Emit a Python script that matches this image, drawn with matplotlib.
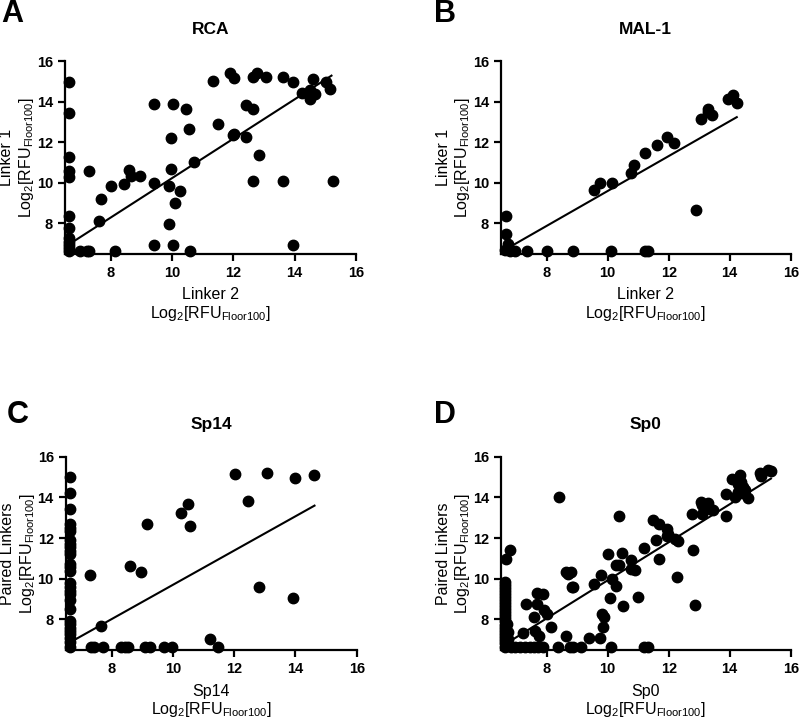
import matplotlib
matplotlib.use("Agg")
import matplotlib.pyplot as plt

plt.rcParams['font.family'] = ['Liberation Sans', 'DejaVu Sans']
plt.rcParams['mathtext.default'] = 'regular'

# ---- data (log2 RFU, floor = log2(100) ~ 6.64) ----
rca_x = [6.64, 6.64, 6.64, 6.64, 6.64, 6.64, 6.64, 6.64, 6.64, 6.64, 6.64, 6.64,
         7.0, 7.22, 7.3, 8.14, 10.59,
         7.29, 7.6, 7.67, 8.0, 8.44, 8.59, 8.66, 8.96, 9.4, 9.4, 9.4, 9.9, 9.9,
         10.02, 9.98, 9.98, 10.02, 10.08, 10.25, 10.46, 10.54, 10.7, 11.32, 11.5,
         11.9, 12.02, 11.99, 12.02, 12.4, 12.42, 12.65, 12.64, 12.77, 12.82, 12.64,
         13.06, 13.62, 13.62, 13.95, 13.94, 14.25, 14.5, 14.5, 14.59, 14.65, 15.03,
         15.15, 15.26]
rca_y = [14.98, 13.44, 11.26, 10.61, 10.31, 8.38, 7.77, 7.28, 7.1, 6.92, 6.78, 6.64,
         6.64, 6.64, 6.64, 6.64, 6.64,
         10.59, 8.13, 9.21, 9.85, 9.93, 10.64, 10.34, 10.36, 13.92, 9.98, 6.93, 9.87, 7.98,
         13.92, 12.2, 10.69, 6.93, 9.0, 9.61, 13.67, 12.64, 11.02, 15.03, 12.89,
         15.44, 15.18, 12.36, 12.43, 12.26, 13.84, 13.64, 15.21, 15.44, 11.38, 10.11,
         15.25, 15.25, 10.11, 14.98, 6.93, 14.46, 14.59, 14.13, 15.11, 14.41, 14.98,
         14.64, 10.11]
rca_fit_x = [6.64, 15.2]
rca_fit_y = [6.97, 15.3]

mal_x = [6.66, 6.67, 6.72, 6.64, 6.8, 6.96,
         7.35, 8.0, 8.85, 10.1, 11.24, 11.33,
         9.55, 9.76, 10.15, 10.78, 10.87, 11.22, 11.62, 11.96, 12.18, 12.88,
         13.05, 13.29, 13.29, 13.43, 13.93, 14.12, 14.23]
mal_y = [8.38, 7.49, 6.98, 6.7, 6.64, 6.64,
         6.64, 6.64, 6.64, 6.64, 6.64, 6.64,
         9.67, 9.98, 9.98, 10.48, 10.89, 11.49, 11.87, 12.25, 11.95, 8.66,
         13.18, 13.64, 13.48, 13.38, 14.13, 14.33, 13.95]
mal_fit_x = [6.74, 14.23]
mal_fit_y = [6.79, 13.25]

sp14_x = [6.64, 6.64, 6.64, 6.64, 6.64, 6.64, 6.64, 6.64, 6.64, 6.64, 6.64, 6.64, 6.64, 6.64,
          6.64, 6.64, 6.64, 6.64, 6.64, 6.64, 6.64, 6.64, 6.64, 6.64, 6.64, 6.64, 6.64, 6.64,
          7.29, 7.67, 8.6, 8.96, 9.14, 10.27, 10.49, 10.56, 11.2, 11.46, 12.04, 12.46,
          13.08, 12.82, 13.97, 13.92, 14.62,
          7.32, 7.43, 7.73, 8.3, 8.45, 8.52, 9.09, 9.26, 9.72, 9.97]
sp14_y = [14.98, 14.2, 13.43, 12.7, 12.5, 12.36, 11.9, 11.7, 11.54, 11.38, 11.2, 10.72, 10.56, 10.4,
          9.8, 9.6, 9.4, 9.25, 8.97, 8.5, 7.93, 7.77, 7.6, 7.44, 7.28, 7.1, 6.87, 6.64,
          10.16, 7.7, 10.61, 10.33, 12.69, 13.21, 13.66, 12.59, 7.03, 6.64, 15.15, 13.8,
          15.2, 9.57, 14.93, 9.05, 15.08,
          6.64, 6.64, 6.64, 6.64, 6.64, 6.64, 6.64, 6.64, 6.64, 6.64]
sp14_fit_x = [6.64, 14.62]
sp14_fit_y = [6.87, 13.59]

sp0_x = [6.64, 6.64, 6.64, 6.64, 6.64, 6.64, 6.64, 6.64, 6.64, 6.64, 6.64, 6.64, 6.64, 6.64,
         6.64, 6.64, 6.64, 6.64, 6.64, 6.64, 6.64, 6.64, 6.7, 6.72, 6.75, 6.66, 6.8,
         6.83, 6.96, 7.13, 7.29, 7.46, 7.6, 7.73, 7.89, 8.38, 8.76, 8.87, 9.12, 10.1, 11.2, 11.31,
         7.31, 7.67, 7.89, 7.69, 7.6, 7.92, 8.0, 7.62, 7.75, 7.24, 8.14, 8.63, 8.71, 8.8,
         8.84, 8.62, 9.4, 9.75, 9.56, 9.86, 9.89, 9.82, 8.41, 10.37, 11.49, 11.68, 11.6,
         11.69, 11.2, 11.93, 11.98, 11.93, 12.2, 12.31, 12.26, 12.79, 12.86, 12.75, 13.05,
         13.08, 13.19, 13.29, 13.35, 13.46, 13.08, 13.87, 13.88, 14.08, 14.17, 14.33, 14.28,
         14.38, 14.44, 14.5, 14.6, 14.41, 14.28, 14.98, 15.04, 15.26, 15.35,
         10.02, 10.48, 10.29, 10.37, 10.76, 10.78, 10.89, 10.98, 10.49, 10.09, 10.13,
         10.26, 9.78, 8.85]
sp0_y = [9.85, 9.7, 9.55, 9.4, 9.25, 9.1, 8.95, 8.8, 8.65, 8.5, 8.35, 8.2, 8.05, 7.9,
         7.75, 7.6, 7.45, 7.3, 7.15, 7.0, 6.85, 6.64, 7.79, 7.4, 7.05, 10.98, 11.42,
         6.64, 6.64, 6.64, 6.64, 6.64, 6.64, 6.64, 6.64, 6.64, 6.64, 6.64, 6.64, 6.64, 6.64, 6.64,
         8.75, 9.28, 9.25, 8.75, 8.13, 8.46, 8.26, 7.44, 7.2, 7.31, 7.61, 10.31, 10.23, 10.31,
         9.57, 7.2, 7.11, 7.11, 9.74, 7.61, 8.1, 8.28, 14.02, 13.08, 12.87, 12.7, 11.89,
         10.98, 11.52, 12.43, 12.2, 12.1, 11.95, 11.87, 10.1, 11.4, 8.69, 13.2, 13.77,
         13.6, 13.49, 13.72, 13.44, 13.39, 13.2, 13.08, 14.18, 14.92, 14.02, 15.08, 14.67,
         14.77, 14.51, 14.34, 13.95, 14.2, 14.28, 15.2, 15.03, 15.33, 15.28,
         11.23, 11.26, 10.66, 10.66, 10.9, 10.49, 10.44, 9.1, 8.64, 9.03, 10.0,
         9.64, 10.16, 9.61]
sp0_fit_x = [6.8, 15.35]
sp0_fit_y = [6.93, 14.92]

panels = [
    ("A", "RCA", rca_x, rca_y, rca_fit_x, rca_fit_y, "Linker 2", "Linker 1",
     [0.081, 0.647, 0.364, 0.2675], (0.002, 0.981)),
    ("B", "MAL-1", mal_x, mal_y, mal_fit_x, mal_fit_y, "Linker 2", "Linker 1",
     [0.626, 0.647, 0.3625, 0.2675], (0.543, 0.981)),
    ("C", "Sp14", sp14_x, sp14_y, sp14_fit_x, sp14_fit_y, "Sp14", "Paired Linkers",
     [0.082, 0.096, 0.364, 0.269], (0.008, 0.423)),
    ("D", "Sp0", sp0_x, sp0_y, sp0_fit_x, sp0_fit_y, "Sp0", "Paired Linkers",
     [0.626, 0.096, 0.3625, 0.269], (0.543, 0.423)),
]
log_label = r'Log$_2$[RFU$_{Floor100}$]'

fig = plt.figure(figsize=(8, 7.19), dpi=100)

for letter, title, xs, ys, fx, fy, xlab, ylab, rect, lpos in panels:
    ax = fig.add_axes(rect)
    ax.plot(xs, ys, 'o', color='black', ms=7.5, clip_on=False, zorder=3)
    ax.plot(fx, fy, '-', color='black', lw=1.5, zorder=2)
    ax.set_xlim(6.5, 16)
    ax.set_ylim(6.5, 16)
    ax.set_xticks([8, 10, 12, 14, 16])
    ax.set_yticks([8, 10, 12, 14, 16])
    for s in ['top', 'right']:
        ax.spines[s].set_visible(False)
    for s in ['left', 'bottom']:
        ax.spines[s].set_linewidth(1.6)
    ax.tick_params(direction='out', length=5, width=1.6, labelsize=10.5)
    for lbl in ax.get_xticklabels() + ax.get_yticklabels():
        lbl.set_fontweight('bold')

    ax.text(0.5, 1.165, title, transform=ax.transAxes, ha='center', va='center',
            fontsize=12.5, fontweight='bold')
    ax.text(0.5, -0.213, xlab, transform=ax.transAxes, ha='center', va='center', fontsize=11.5)
    ax.text(0.5, -0.31, log_label, transform=ax.transAxes, ha='center', va='center', fontsize=11.5)
    ax.text(-0.199, 0.5, ylab, transform=ax.transAxes, ha='center', va='center',
            rotation=90, fontsize=11.5)
    ax.text(-0.131, 0.5, log_label, transform=ax.transAxes, ha='center', va='center',
            rotation=90, fontsize=11.5)

    # panel letter
    fig.text(lpos[0], lpos[1], letter, fontsize=22, fontweight='bold', ha='left', va='center')

fig.savefig("out.png", dpi=100)
